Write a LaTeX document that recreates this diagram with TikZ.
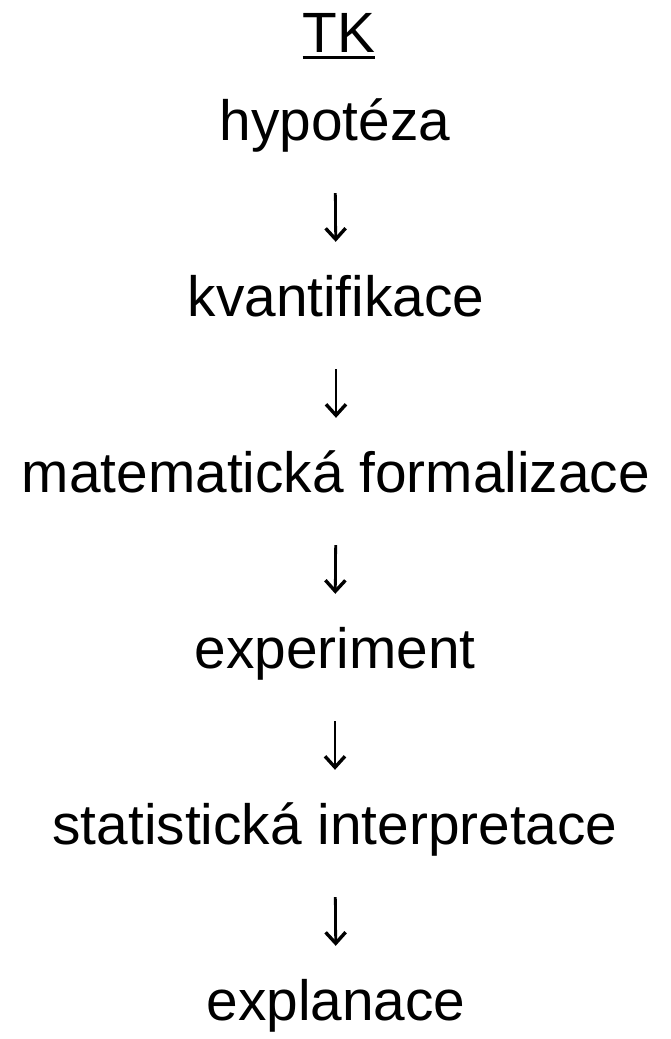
\documentclass[tikz,border=0pt]{standalone}
\usepackage{fontspec}
\setmainfont{Liberation Sans}
\usetikzlibrary{arrows.meta}
\begin{document}
\begin{tikzpicture}[x=1pt,y=1pt,
  step label/.style={anchor=base, inner sep=0pt, text height=40pt, text depth=12pt,
    font=\fontsize{56.8}{60}\selectfont},
  flow/.style={line width=2.8pt, shorten <=41pt, shorten >=34pt,
    -{Straight Barb[length=11pt, width=20pt, line width=3.4pt]}}]
  \useasboundingbox (0,0) rectangle (670,-1039);
  \node[step label] (tk)   at (339,-52)   {TK};
  \draw[line width=3pt] ([yshift=-5pt]tk.base west) -- ([yshift=-5pt]tk.base east);
  \node[step label] (hyp)  at (335,-140)  {hypotéza};
  \node[step label] (kv)   at (336,-316)  {kvantifikace};
  \node[step label] (mat)  at (336,-492)  {matematická formalizace};
  \node[step label] (exp)  at (335,-668)  {experiment};
  \node[step label] (stat) at (335,-844)  {statistická interpretace};
  \node[step label] (expl) at (336,-1020) {explanace};
  \draw[flow] (hyp.south)  -- (kv.north);
  \draw[flow] (kv.south)   -- (mat.north);
  \draw[flow] (mat.south)  -- (exp.north);
  \draw[flow] (exp.south)  -- (stat.north);
  \draw[flow] (stat.south) -- (expl.north);
\end{tikzpicture}
\end{document}
